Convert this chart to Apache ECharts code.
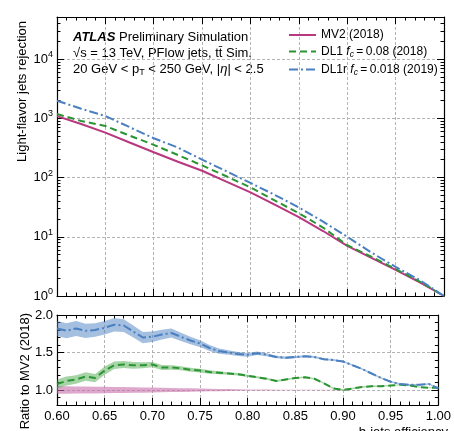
<!DOCTYPE html>
<html><head><meta charset="utf-8">
<script src="https://cdn.jsdelivr.net/npm/echarts@6/dist/echarts.min.js"></script>
<style>html,body{margin:0;padding:0;background:#fff}#c{width:454px;height:431px}</style>
</head><body><div id="c"></div>
<script>
// ---- data ----
const effX = [0.600,0.625,0.650,0.675,0.700,0.725,0.750,0.775,0.800,0.825,0.850,0.875,0.900,0.925,0.950,0.975,1.000];
const mv2Rej  = [1090,800,572,390,267,185,130,85,56,35,21.5,12.5,7.0,4.4,2.75,1.7,1.0];
const dl1Rej  = [1180,900,740,510,356,240,160,105,68,41,25,14.3,7.2,4.6,2.85,1.75,1.0];
const dl1rRej = [1980,1450,1090,710,460,320,200,128,81,51,31.3,18,10,5.4,3.1,1.85,1.0];

const ratioX = [0.60,0.61,0.62,0.63,0.64,0.65,0.66,0.67,0.68,0.69,0.70,0.71,0.72,0.73,0.74,0.75,0.76,0.77,0.78,0.79,0.80,
                0.81,0.82,0.83,0.84,0.85,0.86,0.87,0.88,0.89,0.90,0.91,0.92,0.93,0.94,0.95,0.96,0.97,0.98,0.99,1.00];
const mv2Ratio  = [1,1,1,1,1,1,1,1,1,1,1,1,1,1,1,1,1,1,1,1,1,1,1,1,1,1,1,1,1,1,1,1,1,1,1,1,1,1,1,1,1];
const dl1Ratio  = [1.08,1.12,1.14,1.18,1.16,1.26,1.33,1.34,1.33,1.33,1.34,1.30,1.30,1.29,1.27,1.26,1.24,1.23,1.22,1.21,1.19,
                   1.17,1.15,1.12,1.14,1.16,1.17,1.15,1.09,1.02,1.00,1.02,1.04,1.05,1.05,1.06,1.07,1.06,1.04,1.03,1.03];
const dl1rRatio = [1.82,1.79,1.82,1.79,1.80,1.83,1.87,1.86,1.78,1.70,1.71,1.74,1.76,1.71,1.66,1.62,1.56,1.52,1.50,1.48,1.47,
                   1.49,1.47,1.44,1.43,1.44,1.45,1.44,1.41,1.40,1.38,1.33,1.28,1.22,1.16,1.11,1.08,1.07,1.07,1.08,1.02];
const mv2Err  = [0.05,0.049,0.048,0.046,0.045,0.043,0.041,0.039,0.037,0.035,0.033,0.03,0.028,0.025,0.022,0.02,0.018,0.015,0.012,0.01,0.008,
                 0.007,0.006,0.005,0.004,0.004,0.003,0.003,0.002,0.002,0.002,0,0,0,0,0,0,0,0,0,0];
const dl1Err  = [0.06,0.06,0.058,0.056,0.055,0.055,0.05,0.048,0.045,0.04,0.035,0.033,0.03,0.028,0.026,0.025,0.022,0.02,0.018,0.016,0.015,
                 0.014,0.013,0.012,0.012,0.011,0.011,0.01,0.01,0.01,0.01,0.009,0.009,0.009,0.009,0.008,0.008,0.008,0.008,0.008,0.008];
const dl1rErr = [0.10,0.10,0.10,0.095,0.09,0.09,0.09,0.085,0.08,0.075,0.07,0.065,0.06,0.055,0.05,0.045,0.04,0.035,0.03,0.028,0.025,
                 0.022,0.02,0.018,0.016,0.015,0.014,0.013,0.012,0.012,0.011,0.011,0.01,0.01,0.01,0.01,0.01,0.01,0.01,0.01,0.01];

const logMajorTicks = [1,10,100,1000,10000];
const logMinorTicks = [2,3,4,5,6,7,8,9,20,30,40,50,60,70,80,90,200,300,400,500,600,700,800,900,
                       2000,3000,4000,5000,6000,7000,8000,9000,20000,30000,40000,50000];
const ratioMajorTicks = [1.0,1.5,2.0];
const ratioMinorTicks = [0.8,0.9,1.0,1.1,1.2,1.3,1.4,1.5,1.6,1.7,1.8,1.9,2.0];
const seriesNames = ['MV2 (2018)','DL1 f_c = 0.08 (2018)','DL1r f_c = 0.018 (2019)'];

// ---- styling ----
const FONT = '"Liberation Sans", Arial, sans-serif';
const C_MV2 = '#b8377f', C_DL1 = '#2a9432', C_DL1R = '#4a7fc0';
const B_MV2 = 'rgba(200,110,170,0.6)', B_DL1 = 'rgba(60,160,60,0.45)', B_DL1R = 'rgba(74,128,192,0.5)';
const gridLine = {show:true, lineStyle:{color:'#b4b4b4', width:1, type:[3,2]}};
const axLine = {show:true, onZero:false, lineStyle:{color:'#000', width:1.2}};

function zip(a,b){return a.map((v,i)=>[v,b[i]]);}

function xAx(gi, pos, labels, split){
  return {type:'value', gridIndex:gi, position:pos, min:0.6, max:1.0, interval:0.05,
    axisLine:axLine,
    axisTick:{show:true, inside:true, length:7, lineStyle:{color:'#000'}},
    minorTick:{show:true, splitNumber:5, length:3.5, lineStyle:{color:'#000'}},
    axisLabel:{show:labels, margin:5, fontFamily:FONT, fontSize:13, color:'#000',
      formatter:v=>v.toFixed(2)},
    splitLine: split ? gridLine : {show:false}};
}
function logYMajor(pos){
  return {type:'log', logBase:10, gridIndex:0, position:pos, min:1, max:51286,
    axisLine:axLine,
    axisTick:{show:true, inside:true, length:7, customValues:logMajorTicks, lineStyle:{color:'#000'}},
    axisLabel:{show:pos==='left', margin:4, customValues:logMajorTicks, color:'#000', fontFamily:FONT,
      formatter:v=>'{b|10}{s|'+Math.round(Math.log10(v))+'}',
      rich:{b:{fontSize:13, fontFamily:FONT, color:'#000'}, s:{fontSize:9, fontFamily:FONT, color:'#000', padding:[0,0,9,0]}}},
    splitLine: pos==='left' ? gridLine : {show:false}};
}
function logYMinor(pos){
  return {type:'log', logBase:10, gridIndex:0, position:pos, min:1, max:51286,
    axisLine:{show:false},
    axisTick:{show:true, inside:true, length:3.5, customValues:logMinorTicks, lineStyle:{color:'#000'}},
    axisLabel:{show:false}, splitLine:{show:false}};
}
function ratioYMajor(pos){
  return {type:'value', gridIndex:1, position:pos, min:0.8, max:2.0,
    axisLine:axLine,
    axisTick:{show:true, inside:true, length:7, customValues:ratioMajorTicks, lineStyle:{color:'#000'}},
    axisLabel:{show:pos==='left', margin:4, customValues:ratioMajorTicks, color:'#000', fontFamily:FONT, fontSize:13,
      formatter:v=>v.toFixed(1)},
    splitLine: pos==='left' ? gridLine : {show:false}};
}
function ratioYMinor(pos){
  return {type:'value', gridIndex:1, position:pos, min:0.8, max:2.0,
    axisLine:{show:false},
    axisTick:{show:true, inside:true, length:3.5, customValues:ratioMinorTicks, lineStyle:{color:'#000'}},
    axisLabel:{show:false}, splitLine:{show:false}};
}
function band(xs, ys, errs, color, yi){
  return {type:'custom', xAxisIndex:2, yAxisIndex:yi, silent:true, z:1, data:[[xs[0], ys[0]]],
    renderItem:function(params, api){
      const up=[], lo=[];
      for(let i=0;i<xs.length;i++){
        up.push(api.coord([xs[i], ys[i]+errs[i]]));
        lo.push(api.coord([xs[i], ys[i]-errs[i]]));
      }
      return {type:'polygon', shape:{points:up.concat(lo.reverse())}, style:{fill:color, stroke:null}};
    }};
}
function line(name, xi, yi, data, color, type, z){
  return {name:name, type:'line', xAxisIndex:xi, yAxisIndex:yi, data:data, symbol:'none', showSymbol:false,
    smooth:false, z:z, silent:true, clip:true,
    lineStyle:{color:color, width:2, type:type}, itemStyle:{color:color}};
}

const chart = echarts.init(document.getElementById('c'), null, {renderer:'canvas'});
chart.setOption({
  animation:false,
  backgroundColor:'#fff',
  grid:[{left:57, right:10, top:17, height:279},{left:57, right:10, top:315, height:90}],
  xAxis:[xAx(0,'bottom',false,true), xAx(0,'top',false,false), xAx(1,'bottom',true,true), xAx(1,'top',false,false)],
  yAxis:[logYMajor('left'), logYMinor('left'), logYMajor('right'), logYMinor('right'),
         ratioYMajor('left'), ratioYMinor('left'), ratioYMajor('right'), ratioYMinor('right')],
  legend:{orient:'vertical', left:283, top:24, itemWidth:27, itemHeight:14, itemGap:4.5,
    data:seriesNames, itemStyle:{opacity:0},
    textStyle:{fontFamily:FONT, fontSize:12, color:'#000',
      rich:{i:{fontStyle:'italic', fontFamily:FONT, fontSize:12, color:'#000'},
            c:{fontStyle:'italic', fontFamily:FONT, fontSize:8.5, color:'#000', padding:[6,0,0,0]},
            n:{fontFamily:FONT, fontSize:12, color:'#000'}}},
    formatter:function(n){
      const p = n.split(' f_c ');
      if(p.length<2) return n;
      return p[0]+' {i|f}{c|c}{n|'+p[1].replace('= ','=\u2009').replace(/^/, '\u2009')+'}';
    }},
  series:[
    line(seriesNames[0],0,0,zip(effX,mv2Rej),C_MV2,'solid',5),
    line(seriesNames[1],0,0,zip(effX,dl1Rej),C_DL1,[7,4],6),
    line(seriesNames[2],0,0,zip(effX,dl1rRej),C_DL1R,[9,3,2,3],7),
    band(ratioX, mv2Ratio, mv2Err, B_MV2, 4),
    band(ratioX, dl1Ratio, dl1Err, B_DL1, 4),
    band(ratioX, dl1rRatio, dl1rErr, B_DL1R, 4),
    {type:'line', xAxisIndex:2, yAxisIndex:4, data:zip(ratioX,dl1Ratio), symbol:'none', silent:true, z:6,
      lineStyle:{color:C_DL1, width:2, type:[7,4]}},
    {type:'line', xAxisIndex:2, yAxisIndex:4, data:zip(ratioX,dl1rRatio), symbol:'none', silent:true, z:7,
      lineStyle:{color:C_DL1R, width:2, type:[9,3,2,3]}}
  ],
  graphic:[
    {type:'text', x:73, y:37, style:{text:'{b|ATLAS} Preliminary Simulation', verticalAlign:'middle',
      font:'13px '+FONT, fill:'#000', rich:{b:{fontWeight:'bold', fontStyle:'italic', fontSize:13, fontFamily:FONT, fill:'#000'}}}},
    {type:'text', x:73, y:53, style:{text:'\u221As = 13 TeV, PFlow jets, t\u0074\u0304 Sim.', verticalAlign:'middle',
      font:'13px '+FONT, fill:'#000'}},
    {type:'text', x:73, y:69, style:{text:'20 GeV < p{s|T} < 250 GeV, |{i|\u03B7}| < 2.5', verticalAlign:'middle',
      font:'13px '+FONT, fill:'#000', rich:{s:{fontSize:9, fontFamily:FONT, padding:[7,0,0,0], fill:'#000'},
      i:{fontStyle:'italic', fontSize:13, fontFamily:FONT, fill:'#000'}}}},
    {type:'text', x:22, y:21, rotation:Math.PI/2, style:{text:'Light-flavor jets rejection', align:'right', verticalAlign:'middle',
      font:'13px '+FONT, fill:'#000'}},
    {type:'text', x:25, y:313, rotation:Math.PI/2, style:{text:'Ratio to MV2 (2018)', align:'right', verticalAlign:'middle',
      font:'13px '+FONT, fill:'#000'}},
    {type:'text', x:448, y:426, style:{text:'b-jets efficiency', align:'right', verticalAlign:'top',
      font:'13px '+FONT, fill:'#000'}}
  ]
});
</script></body></html>
